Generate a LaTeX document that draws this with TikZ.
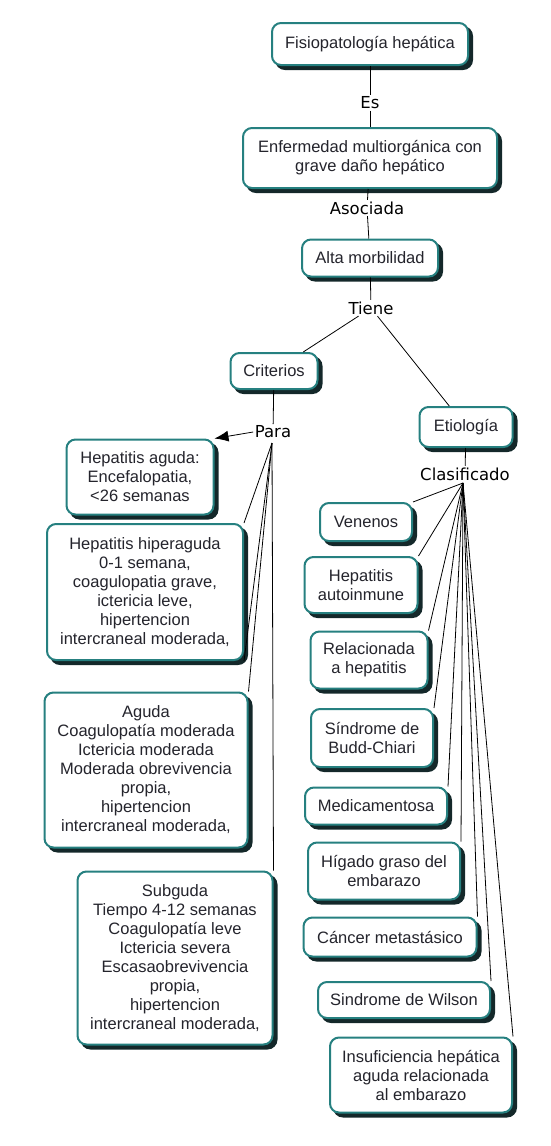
\documentclass[tikz,border=0pt]{standalone}
\usepackage{fontspec}
\setmainfont{Liberation Sans}
\newfontfamily\linkfont{DejaVu Sans}
\usetikzlibrary{arrows.meta}
\definecolor{cmapteal}{RGB}{38,128,128}
\definecolor{cmapshade}{RGB}{20,40,42}
\definecolor{cmaptext}{RGB}{36,36,44}
\tikzset{
  concept/.style 2 args={draw=cmapteal, line width=2pt, fill=white,
    rounded corners=9pt, align=center, text=cmaptext, inner sep=0pt,
    font=\fontsize{16.5}{19}\selectfont,
    minimum width=#1pt, minimum height=#2pt,
    preaction={draw=cmapshade, fill=cmapshade, transform canvas={shift={(4pt,-4pt)}}}},
  linkword/.style={font=\linkfont\fontsize{16.5}{19}\selectfont, inner sep=1.5pt},
  link/.style={line width=0.8pt}
}
\begin{document}
\begin{tikzpicture}[x=1pt,y=-1pt]
\useasboundingbox (0,0) rectangle (550,1146);
% concepts
\node[concept={196}{42}] (fisio) at (370,44) {Fisiopatología hepática};
\node[concept={254}{60}] (enfer) at (370,158) {Enfermedad multiorgánica con\\grave daño hepático};
\node[concept={136}{37}] (alta) at (370,258) {Alta morbilidad};
\node[concept={87}{36}] (crit) at (274,371) {Criterios};
\node[concept={93}{40}] (etio) at (466,427) {Etiología};
%% criterios
\node[concept={147}{75}] (hepag) at (140,477) {Hepatitis aguda:\\Encefalopatia,\\<26 semanas};
\node[concept={196}{136}] (hiper) at (145,592) {Hepatitis hiperaguda\\0-1 semana,\\coagulopatia grave,\\ictericia leve,\\hipertencion\\intercraneal moderada,};
\node[concept={203}{155}] (aguda) at (146,770) {Aguda\\Coagulopatía moderada\\Ictericia moderada\\Moderada obrevivencia\\propia,\\hipertencion\\intercraneal moderada,};
\node[concept={195}{173}] (subg) at (175,958) {Subguda\\Tiempo 4-12 semanas\\Coagulopatía leve\\Ictericia severa\\Escasaobrevivencia\\propia,\\hipertencion\\intercraneal moderada,};
%% etiologia
\node[concept={92}{38}] (venen) at (366,522) {Venenos};
\node[concept={113}{56}] (autoin) at (361,585) {Hepatitis\\autoinmune};
\node[concept={117}{57}] (relac) at (369,660) {Relacionada\\a hepatitis};
\node[concept={122}{58}] (budd) at (372,738) {Síndrome de\\Budd-Chiari};
\node[concept={142}{37}] (medic) at (376,806) {Medicamentosa};
\node[concept={152}{57}] (higado) at (384,871) {Hígado graso del\\embarazo};
\node[concept={173}{39}] (cancer) at (390,937) {Cáncer metastásico};
\node[concept={172}{36}] (wilson) at (404,1000) {Sindrome de Wilson};
\node[concept={182}{75}] (insuf) at (421,1075) {Insuficiencia hepática\\aguda relacionada\\al embarazo};
% linking words
\node[linkword] (es) at (370,103) {Es};
\node[linkword] (asoc) at (367,208) {Asociada};
\node[linkword] (tiene) at (371,308) {Tiene};
\node[linkword] (para) at (273,432) {Para};
\node[linkword] (clasif) at (465,474) {Clasificado};
\coordinate (parafan) at (272,443);
\coordinate (clasfan) at (463,483);
%%%%
\draw[link] (fisio) -- (es);
\draw[link] (es) -- (enfer);
\draw[link] (enfer) -- (asoc);
\draw[link] (asoc) -- (alta);
\draw[link] (alta) -- (tiene);
\draw[link] (tiene) -- (crit);
\draw[link] (tiene) -- (etio);
\draw[link] (crit) -- (para);
\draw[link] (etio) -- (clasif);
\draw[link,-{Latex[length=14pt,width=11pt]}] (para.west) -- (hepag.north east);
\foreach \c in {hiper,aguda,subg}
  \draw[link] (parafan) -- (\c.north east);
\draw[link] (parafan) -- (hiper.south east);
\foreach \c in {venen,autoin,relac,budd,medic,higado,cancer,wilson,insuf}
  \draw[link] (clasfan) -- (\c.north east);
\end{tikzpicture}
\end{document}
